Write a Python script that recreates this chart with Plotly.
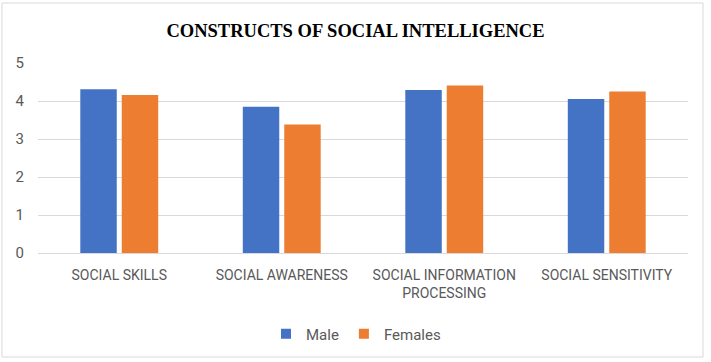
import plotly.graph_objects as go

categories = ["SOCIAL SKILLS", "SOCIAL AWARENESS", "SOCIAL INFORMATION<br>PROCESSING", "SOCIAL SENSITIVITY"]
male = [4.31, 3.85, 4.29, 4.05]
females = [4.16, 3.38, 4.41, 4.25]
y_ticks = [0, 1, 2, 3, 4, 5]

W, H = 711, 362
L, R, T, B = 38, 23, 63, 109
pw, ph = W - L - R, H - T - B

def px_x(x):
    return (x - L) / pw

def px_y(y):
    return (H - B - y) / ph

font_fam = "Roboto, Open Sans, sans-serif"
gray = "#595959"

fig = go.Figure()
fig.add_trace(go.Bar(name="Male", x=categories, y=male, showlegend=False,
                     marker=dict(color="#4472C4", line=dict(width=0))))
fig.add_trace(go.Bar(name="Females", x=categories, y=females, showlegend=False,
                     marker=dict(color="#ED7D31", line=dict(width=0))))
# legend entries with square symbols
fig.add_trace(go.Scatter(name="Male", x=[None], y=[None], mode="markers",
                         marker=dict(symbol="square", size=10, color="#4472C4")))
fig.add_trace(go.Scatter(name="Females", x=[None], y=[None], mode="markers",
                         marker=dict(symbol="square", size=10, color="#ED7D31")))

fig.update_layout(
    width=W, height=H,
    margin=dict(l=L, r=R, t=T, b=B),
    paper_bgcolor="white", plot_bgcolor="white",
    barmode="group", bargap=0.49, bargroupgap=0.12,
    title=dict(text="<b>CONSTRUCTS OF SOCIAL INTELLIGENCE</b>",
               font=dict(family="Liberation Serif, Times New Roman, serif", size=18.5, color="black"),
               x=0.5, xref="container", y=1 - 30.5 / H, yref="container", yanchor="middle", xanchor="center"),
    showlegend=True,
    legend=dict(orientation="h", x=px_x(356), y=px_y(334), xanchor="center", yanchor="middle",
                font=dict(family=font_fam, size=15, color=gray), itemwidth=30, tracegroupgap=0),
    xaxis=dict(showgrid=False, showline=False, zeroline=False, ticks="",
               tickfont=dict(family=font_fam, size=14, color=gray), ticklabelstandoff=12),
    yaxis=dict(range=[0, 5], tickvals=y_ticks, showgrid=True, gridcolor="#d9d9d9", gridwidth=1,
               zeroline=True, zerolinecolor="#d9d9d9", zerolinewidth=1, showline=False, ticks="",
               tickfont=dict(family=font_fam, size=15, color=gray), ticklabelstandoff=13),
    shapes=[dict(type="rect", xref="paper", yref="paper",
                 x0=px_x(2), x1=px_x(703), y0=px_y(357), y1=px_y(3),
                 line=dict(color="#d9d9d9", width=1), fillcolor="rgba(0,0,0,0)", layer="below")],
)

fig.write_html("out.html", config={"displayModeBar": False},
               post_script="document.body.style.margin='0';document.body.style.padding='0';")
